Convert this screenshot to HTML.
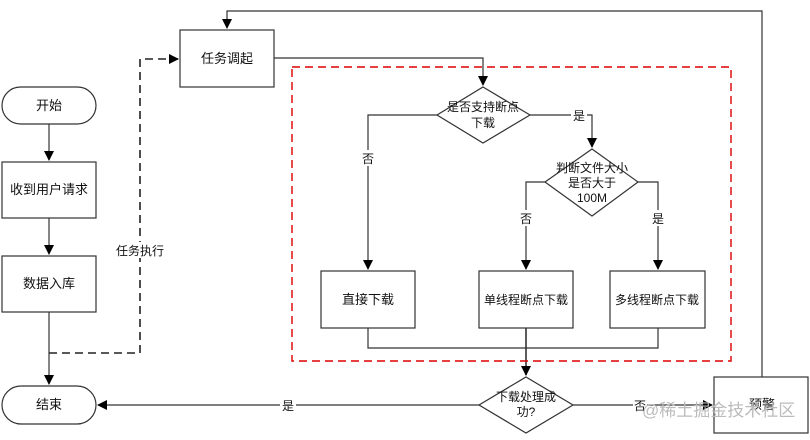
<!DOCTYPE html>
<html><head><meta charset="utf-8"><style>
body{margin:0;background:#fff;width:810px;height:435px;overflow:hidden}
text{font-family:"Liberation Sans","Noto Sans CJK SC",sans-serif;font-size:12px;fill:#111}
</style></head><body>
<svg width="810" height="435" viewBox="0 0 810 435" xmlns="http://www.w3.org/2000/svg">
<defs><marker id="a" markerWidth="10" markerHeight="10" refX="9" refY="5" orient="auto" markerUnits="userSpaceOnUse"><path d="M0,0 L10,5 L0,10z" fill="#000"/></marker></defs>
<g fill="none" stroke="#333" stroke-width="1.2">
<rect x="2" y="87" width="94" height="37" rx="18.5"/>
<rect x="2" y="162" width="94" height="56"/>
<rect x="2" y="256" width="94" height="56"/>
<rect x="2" y="386" width="94" height="38" rx="19"/>
<rect x="180" y="30" width="94" height="57"/>
<rect x="321" y="271" width="94" height="57"/>
<rect x="479" y="271" width="94" height="57"/>
<rect x="610" y="271" width="95" height="57"/>
<rect x="714" y="377" width="94" height="56"/>
<path d="M483,87 L530,115 L483,143 L437,115Z"/>
<path d="M592,149 L638,182 L592,216 L545,182Z"/>
<path d="M526,377 L573,405 L526,433 L479,405Z"/>
<path d="M49,124 V160" marker-end="url(#a)"/>
<path d="M49,218 V254" marker-end="url(#a)"/>
<path d="M49,312 V384" marker-end="url(#a)"/>
<path d="M762,377 V11 H227 V28" marker-end="url(#a)"/>
<path d="M274,58 H483 V85" marker-end="url(#a)"/>
<path d="M437,115 H368 V269" marker-end="url(#a)"/>
<path d="M530,115 H592 V147" marker-end="url(#a)"/>
<path d="M545,182 H526 V269" marker-end="url(#a)"/>
<path d="M638,182 H658 V269" marker-end="url(#a)"/>
<path d="M368,328 V348 H658 V328"/>
<path d="M526,328 V375" marker-end="url(#a)" stroke-width="1.6"/>
<path d="M479,405 H98" marker-end="url(#a)"/>
<path d="M573,405 H712" marker-end="url(#a)"/>
<path d="M49,353 H140 V59 H178" stroke="#222" stroke-width="1.6" stroke-dasharray="8,5" marker-end="url(#a)"/>
<rect x="292" y="67" width="439" height="294" stroke="#d00" stroke-width="1.4" stroke-dasharray="8,5"/>
</g>
<g text-anchor="middle">
<text x="49" y="110" style="font-size:13px">开始</text>
<text x="49" y="194" style="font-size:13px">收到用户请求</text>
<text x="49" y="288" style="font-size:13px">数据入库</text>
<text x="49" y="409" style="font-size:13px">结束</text>
<text x="227" y="63" style="font-size:13px">任务调起</text>
<rect x="110" y="242" width="60" height="16" fill="#fff"/>
<text x="140" y="255">任务执行</text>
<text x="368" y="304" style="font-size:13px">直接下载</text>
<text x="526" y="304">单线程断点下载</text>
<text x="657" y="304">多线程断点下载</text>
<text x="762" y="409" style="font-size:13px">预警</text>
<text x="483" y="111">是否支持断点</text>
<text x="483" y="127">下载</text>
<text x="592" y="172">判断文件大小</text>
<text x="592" y="187">是否大于</text>
<text x="592" y="202">100M</text>
<text x="526" y="401">下载处理成</text>
<text x="526" y="416">功?</text>
<rect x="360" y="150" width="16" height="16" fill="#fff"/><text x="368" y="163">否</text>
<rect x="571" y="108" width="16" height="15" fill="#fff"/><text x="579" y="120">是</text>
<rect x="518" y="210" width="16" height="16" fill="#fff"/><text x="526" y="223">否</text>
<rect x="650" y="210" width="16" height="16" fill="#fff"/><text x="658" y="223">是</text>
<rect x="280" y="398" width="16" height="15" fill="#fff"/><text x="288" y="410">是</text>
<rect x="633" y="398" width="14" height="15" fill="#fff"/><text x="640" y="410">否</text>
</g>
<text x="642" y="416" style="font-size:17px;fill:#bbb">@稀土掘金技术社区</text>
</svg>
</body></html>
